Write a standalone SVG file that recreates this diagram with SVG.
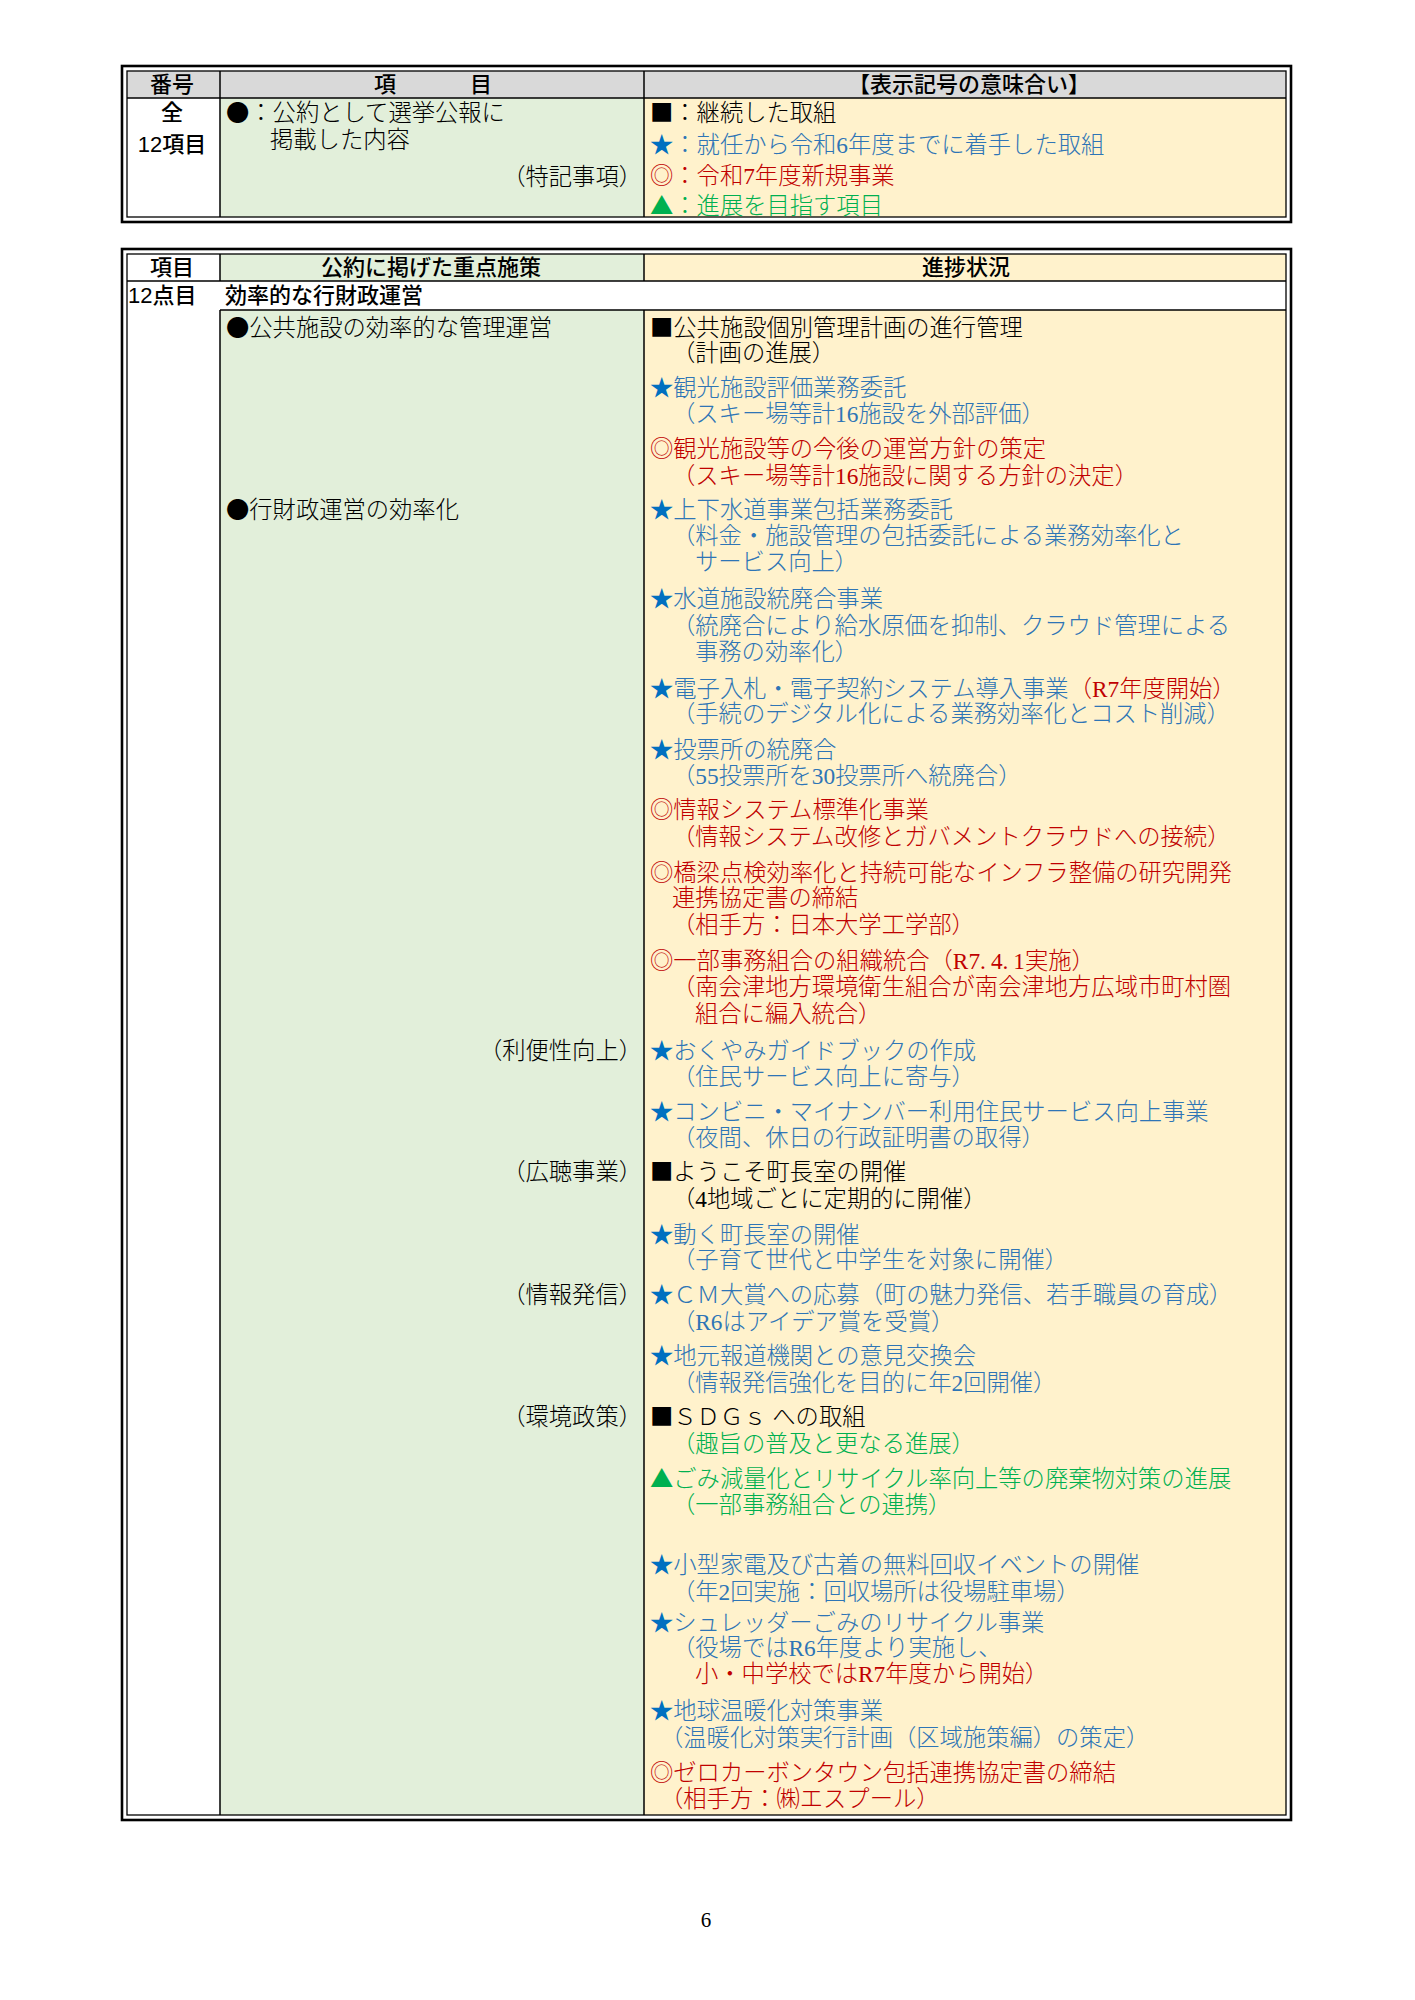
<svg xmlns="http://www.w3.org/2000/svg" width="1415" height="2000" viewBox="0 0 1415 2000">
<style>
.s{font-family:"Liberation Serif","Noto Sans CJK JP",serif;font-size:23.3px;font-weight:300}
.g{font-family:"Liberation Sans","Noto Sans CJK JP",sans-serif;font-size:22px;font-weight:500}
.sym{font-family:"Noto Sans CJK JP",sans-serif}
.k{fill:#000}
.b{fill:#2e75b6}
.r{fill:#c00000}
.gr{fill:#00b050}
.st{fill:#0070c0}
.m{text-anchor:middle}
.e{text-anchor:end}
.outer{fill:none;stroke:#000;stroke-width:2.6}
.inner{fill:none;stroke:#000;stroke-width:1.3}
.ln{stroke:#000;stroke-width:1.5;fill:none}
.hd{fill:#d9d9d9}
.gf{fill:#e2efda}
.yf{fill:#fff2cc}
</style>
<rect width="1415" height="2000" fill="#fff"/>

<!-- Legend table -->
<g id="legend-table">
  <rect class="hd" x="127" y="71" width="1159" height="27"/>
  <rect fill="#fff" x="127" y="98" width="93" height="119"/>
  <rect class="gf" x="220" y="98" width="424" height="119"/>
  <rect class="yf" x="644" y="98" width="642" height="119"/>
  <g id="legend-grid">
    <rect class="outer" x="122" y="66" width="1169" height="156"/>
    <rect class="inner" x="127" y="71" width="1159" height="146"/>
    <line class="ln" x1="127" y1="98" x2="1286" y2="98"/>
    <line class="ln" x1="220" y1="71" x2="220" y2="217"/>
    <line class="ln" x1="644" y1="71" x2="644" y2="217"/>
  </g>
  <g id="legend-header">
    <text class="g m" x="172" y="92">番号</text>
    <text class="g m" x="434" y="92" style="letter-spacing:2px">項　　　目</text>
    <text class="g m" x="969" y="92">【表示記号の意味合い】</text>
  </g>
  <g id="legend-no">
    <text class="g m" x="172" y="120">全</text>
    <text class="g m" x="172" y="152">12項目</text>
  </g>
  <g id="legend-item">
    <text class="s k" x="226" y="121"><tspan class="sym">●</tspan>：公約として選挙公報に</text>
    <text class="s k" x="270" y="148">掲載した内容</text>
    <text class="s k e" x="642" y="185">（特記事項）</text>
  </g>
  <g id="legend-meaning">
    <text class="s k" x="650" y="121"><tspan class="sym">■</tspan>：継続した取組</text>
    <text class="s b" x="650" y="153"><tspan class="sym st">★</tspan>：就任から令和6年度までに着手した取組</text>
    <text class="s r" x="650" y="184"><tspan class="sym">◎</tspan>：令和7年度新規事業</text>
    <text class="s gr" x="650" y="214"><tspan class="sym">▲</tspan>：進展を目指す項目</text>
  </g>
</g>

<!-- Main table -->
<g id="main-table">
  <rect fill="#fff" x="127" y="254" width="1159" height="1561"/>
  <rect class="gf" x="220" y="254" width="424" height="27"/>
  <rect class="yf" x="644" y="254" width="642" height="27"/>
  <rect class="gf" x="220" y="310" width="424" height="1505"/>
  <rect class="yf" x="644" y="310" width="642" height="1505"/>
  <g id="main-grid">
    <rect class="outer" x="122" y="249" width="1169" height="1571"/>
    <rect class="inner" x="127" y="254" width="1159" height="1561"/>
    <line class="ln" x1="127" y1="281" x2="1286" y2="281"/>
    <line class="ln" x1="220" y1="310" x2="1286" y2="310"/>
    <line class="ln" x1="220" y1="254" x2="220" y2="281"/>
    <line class="ln" x1="644" y1="254" x2="644" y2="281"/>
    <line class="ln" x1="220" y1="310" x2="220" y2="1815"/>
    <line class="ln" x1="644" y1="310" x2="644" y2="1815"/>
  </g>
  <g id="main-header">
    <text class="g m" x="172" y="275">項目</text>
    <text class="g m" x="431" y="275">公約に掲げた重点施策</text>
    <text class="g m" x="966" y="275">進捗状況</text>
  </g>
  <g id="row-12">
    <text class="g" x="128" y="303">12点目</text>
    <text class="g" x="225" y="303">効率的な行財政運営</text>
  </g>
  <g id="policies">
    <text class="s k" x="226" y="336"><tspan class="sym">●</tspan>公共施設の効率的な管理運営</text>
    <text class="s k" x="226" y="518"><tspan class="sym">●</tspan>行財政運営の効率化</text>
    <text class="s k e" x="642" y="1059">（利便性向上）</text>
    <text class="s k e" x="642" y="1180">（広聴事業）</text>
    <text class="s k e" x="642" y="1303">（情報発信）</text>
    <text class="s k e" x="642" y="1425">（環境政策）</text>
  </g>
  <g id="progress">
    <text class="s k" x="650" y="336"><tspan class="sym">■</tspan>公共施設個別管理計画の進行管理</text>
    <text class="s k" x="672" y="361">（計画の進展）</text>
    <text class="s b" x="650" y="396"><tspan class="sym st">★</tspan>観光施設評価業務委託</text>
    <text class="s b" x="672" y="422">（スキー場等計16施設を外部評価）</text>
    <text class="s r" x="650" y="457"><tspan class="sym">◎</tspan>観光施設等の今後の運営方針の策定</text>
    <text class="s r" x="672" y="484">（スキー場等計16施設に関する方針の決定）</text>
    <text class="s b" x="650" y="518"><tspan class="sym st">★</tspan>上下水道事業包括業務委託</text>
    <text class="s b" x="672" y="544">（料金・施設管理の包括委託による業務効率化と</text>
    <text class="s b" x="695" y="570">サービス向上）</text>
    <text class="s b" x="650" y="607"><tspan class="sym st">★</tspan>水道施設統廃合事業</text>
    <text class="s b" x="672" y="634">（統廃合により給水原価を抑制、クラウド管理による</text>
    <text class="s b" x="695" y="660">事務の効率化）</text>
    <text class="s b" x="650" y="697"><tspan class="sym st">★</tspan>電子入札・電子契約システム導入事業<tspan class="r">（R7年度開始）</tspan></text>
    <text class="s b" x="672" y="722">（手続のデジタル化による業務効率化とコスト削減）</text>
    <text class="s b" x="650" y="758"><tspan class="sym st">★</tspan>投票所の統廃合</text>
    <text class="s b" x="672" y="784">（55投票所を30投票所へ統廃合）</text>
    <text class="s r" x="650" y="818"><tspan class="sym">◎</tspan>情報システム標準化事業</text>
    <text class="s r" x="672" y="845">（情報システム改修とガバメントクラウドへの接続）</text>
    <text class="s r" x="650" y="881"><tspan class="sym">◎</tspan>橋梁点検効率化と持続可能なインフラ整備の研究開発</text>
    <text class="s r" x="672" y="906">連携協定書の締結</text>
    <text class="s r" x="672" y="933">（相手方：日本大学工学部）</text>
    <text class="s r" x="650" y="969"><tspan class="sym">◎</tspan>一部事務組合の組織統合（R7.<tspan dx="5">4.</tspan><tspan dx="5">1</tspan>実施）</text>
    <text class="s r" x="672" y="995">（南会津地方環境衛生組合が南会津地方広域市町村圏</text>
    <text class="s r" x="695" y="1022">組合に編入統合）</text>
    <text class="s b" x="650" y="1059"><tspan class="sym st">★</tspan>おくやみガイドブックの作成</text>
    <text class="s b" x="672" y="1085">（住民サービス向上に寄与）</text>
    <text class="s b" x="650" y="1120"><tspan class="sym st">★</tspan>コンビニ・マイナンバー利用住民サービス向上事業</text>
    <text class="s b" x="672" y="1146">（夜間、休日の行政証明書の取得）</text>
    <text class="s k" x="650" y="1180"><tspan class="sym">■</tspan>ようこそ町長室の開催</text>
    <text class="s k" x="672" y="1207">（4地域ごとに定期的に開催）</text>
    <text class="s b" x="650" y="1243"><tspan class="sym st">★</tspan>動く町長室の開催</text>
    <text class="s b" x="672" y="1268">（子育て世代と中学生を対象に開催）</text>
    <text class="s b" x="650" y="1303"><tspan class="sym st">★</tspan>ＣＭ大賞への応募（町の魅力発信、若手職員の育成）</text>
    <text class="s b" x="672" y="1330">（R6はアイデア賞を受賞）</text>
    <text class="s b" x="650" y="1364"><tspan class="sym st">★</tspan>地元報道機関との意見交換会</text>
    <text class="s b" x="672" y="1391">（情報発信強化を目的に年2回開催）</text>
    <text class="s k" x="650" y="1425"><tspan class="sym">■</tspan>ＳＤＧｓ への取組</text>
    <text class="s gr" x="672" y="1452">（趣旨の普及と更なる進展）</text>
    <text class="s gr" x="650" y="1487"><tspan class="sym">▲</tspan>ごみ減量化とリサイクル率向上等の廃棄物対策の進展</text>
    <text class="s gr" x="672" y="1513">（一部事務組合との連携）</text>
    <text class="s b" x="650" y="1573"><tspan class="sym st">★</tspan>小型家電及び古着の無料回収イベントの開催</text>
    <text class="s b" x="672" y="1600">（年2回実施：回収場所は役場駐車場）</text>
    <text class="s b" x="650" y="1631"><tspan class="sym st">★</tspan>シュレッダーごみのリサイクル事業</text>
    <text class="s b" x="672" y="1656">（役場ではR6年度より実施し、</text>
    <text class="s r" x="695" y="1682">小・中学校ではR7年度から開始）</text>
    <text class="s b" x="650" y="1719"><tspan class="sym st">★</tspan>地球温暖化対策事業</text>
    <text class="s b" x="660" y="1746">（温暖化対策実行計画（区域施策編）の策定）</text>
    <text class="s r" x="650" y="1781"><tspan class="sym">◎</tspan>ゼロカーボンタウン包括連携協定書の締結</text>
    <text class="s r" x="660" y="1807">（相手方：㈱エスプール）</text>
  </g>
</g>

<g id="connectors"/>

<g id="page-number">
  <text class="s k m" x="706" y="1927" style="font-size:21px">6</text>
</g>
</svg>
